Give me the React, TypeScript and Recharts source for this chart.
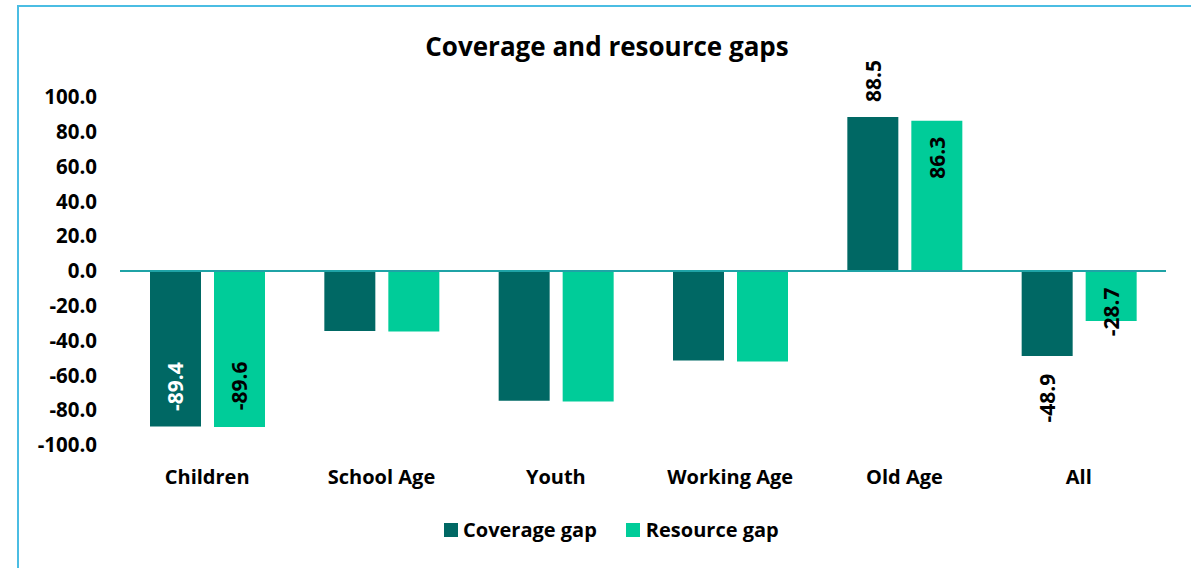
import React from "react";
import { BarChart, Bar, XAxis, YAxis, ReferenceLine, LabelList } from "recharts";

const categories = ["Children", "School Age", "Youth", "Working Age", "Old Age", "All"];
const coverageGap = [-89.4, -34.5, -74.5, -51.5, 88.5, -48.9];
const resourceGap = [-89.6, -34.7, -75.0, -52.0, 86.3, -28.7];
const yTicks = [-100, -80, -60, -40, -20, 0, 20, 40, 60, 80, 100];

const data = categories.map((name, i) => ({
  name,
  coverage: coverageGap[i],
  resource: resourceGap[i],
}));

const DARK = "#006864";
const GREEN = "#00CC99";
const FONT = "'Open Sans', Lato, sans-serif";

// где стоят подписи: >0 снаружи конца столбца, <0 внутри (расстояние до центра текста)
const coverageLabelPos: Record<string, number> = { Children: -40, "Old Age": 36, All: 42 };
const resourceLabelPos: Record<string, number> = { Children: -41, "Old Age": -37, All: -9 };

function makeLabel(pos: Record<string, number>, insideColor: string) {
  return (props: any) => {
    const { x, y, width, height, value, index } = props;
    const cat = categories[index];
    if (!(cat in pos)) return null;
    const off = pos[cat];
    const top = Math.min(y, y + height);
    const bottom = Math.max(y, y + height);
    const cx = x + width / 2;
    const cy = value >= 0 ? top - off : bottom + off;
    const fill = off < -20 ? insideColor : "#000";
    return (
      <text
        x={cx}
        y={cy}
        transform={`rotate(-90 ${cx} ${cy})`}
        textAnchor="middle"
        dominantBaseline="central"
        fontFamily={FONT}
        fontWeight={700}
        fontSize={21}
        fill={fill}
      >
        {value.toFixed(1)}
      </text>
    );
  };
}

export default function App() {
  return (
    <div style={{ position: "relative", width: 1191, height: 568, overflow: "hidden", background: "#fff" }}>
      <style>{"body{margin:0}"}</style>
      <div
        style={{
          position: "absolute",
          left: 17,
          top: 5,
          width: 1300,
          height: 700,
          borderLeft: "2px solid #4BBDE3",
          borderTop: "2px solid #4BBDE3",
        }}
      />
      <div
        style={{
          position: "absolute",
          left: 0,
          width: 1214,
          top: 28,
          textAlign: "center",
          fontFamily: FONT,
          fontWeight: 700,
          fontSize: 26,
          color: "#000",
        }}
      >
        Coverage and resource gaps
      </div>
      <div style={{ position: "absolute", left: 0, top: 0 }}>
        <BarChart
          width={1191}
          height={568}
          data={data}
          margin={{ top: 97, right: 25, bottom: 63, left: 0 }}
          barCategoryGap={30}
          barGap={13}
        >
          <YAxis
            width={120}
            domain={[-100, 100]}
            ticks={yTicks}
            interval={0}
            axisLine={false}
            tickLine={false}
            tickSize={0}
            tickMargin={23}
            tickFormatter={(v: number) => v.toFixed(1)}
            tick={{ fill: "#000", fontFamily: FONT, fontWeight: 700, fontSize: 20.5 }}
          />
          <XAxis
            dataKey="name"
            height={60}
            axisLine={false}
            tickLine={false}
            tickSize={0}
            tickMargin={25}
            interval={0}
            tick={{ fill: "#000", fontFamily: FONT, fontWeight: 700, fontSize: 20 }}
          />
          <Bar dataKey="coverage" fill={DARK} isAnimationActive={false}>
            <LabelList dataKey="coverage" content={makeLabel(coverageLabelPos, "#fff")} />
          </Bar>
          <Bar dataKey="resource" fill={GREEN} isAnimationActive={false}>
            <LabelList dataKey="resource" content={makeLabel(resourceLabelPos, "#000")} />
          </Bar>
          <ReferenceLine y={0} stroke="#1FA3A6" strokeWidth={2} />
        </BarChart>
      </div>
      <div
        style={{
          position: "absolute",
          left: 444,
          top: 516,
          display: "flex",
          alignItems: "center",
          fontFamily: FONT,
          fontWeight: 700,
          fontSize: 20,
          color: "#000",
        }}
      >
        <span style={{ width: 14, height: 14, background: DARK, display: "inline-block", marginRight: 5 }} />
        <span style={{ marginRight: 29 }}>Coverage gap</span>
        <span style={{ width: 14, height: 14, background: GREEN, display: "inline-block", marginRight: 6 }} />
        <span>Resource gap</span>
      </div>
    </div>
  );
}
